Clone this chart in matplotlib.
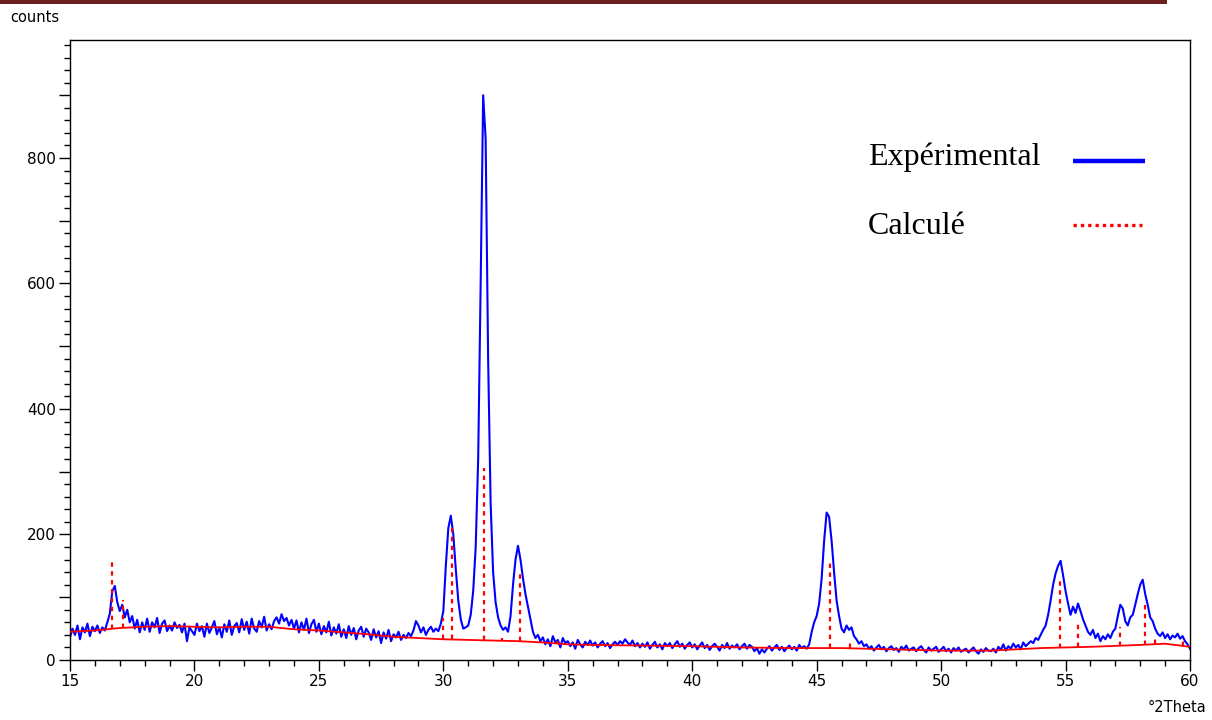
import numpy as np
import matplotlib
matplotlib.use("Agg")
import matplotlib.pyplot as plt
from matplotlib.ticker import MultipleLocator, FuncFormatter
from matplotlib.lines import Line2D
from matplotlib.patches import Rectangle

# ---------------- data ----------------
theta_start, theta_stop, theta_step = 15.0, 60.0, 0.1

# experimental counts, one row per degree (x.0 ... x.9), last value at 60.0
counts = [
    36, 50, 40, 55, 33, 52, 44, 58, 38, 53,          # 15
    46, 55, 43, 52, 47, 60, 74, 110, 118, 92,        # 16
    78, 88, 68, 80, 60, 70, 50, 64, 44, 60,          # 17
    48, 66, 45, 60, 52, 67, 43, 58, 63, 46,          # 18
    55, 47, 60, 51, 56, 44, 58, 30, 52, 46,          # 19
    40, 58, 46, 54, 37, 58, 43, 52, 62, 41,          # 20
    52, 36, 57, 45, 63, 40, 54, 59, 44, 65,          # 21
    48, 61, 42, 66, 50, 45, 62, 52, 69, 47,          # 22
    57, 49, 62, 68, 58, 73, 62, 67, 55, 64,          # 23
    50, 63, 44, 60, 48, 66, 43, 57, 64, 45,          # 24
    58, 41, 54, 44, 61, 39, 52, 42, 57, 37,          # 25
    49, 35, 54, 40, 51, 33, 47, 53, 37, 50,          # 26
    44, 32, 49, 36, 46, 27, 44, 34, 48, 30,          # 27
    41, 36, 45, 32, 40, 35, 43, 38, 47, 62,          # 28
    55, 44, 52, 40, 48, 53, 45, 50, 46, 58,          # 29
    78, 150, 210, 230, 200, 145, 95, 65, 50, 52,     # 30
    55, 72, 110, 180, 320, 600, 900, 830, 480, 250,  # 31
    140, 92, 68, 55, 48, 52, 45, 70, 120, 160,       # 32
    182, 160, 130, 105, 85, 65, 45, 35, 40, 30,      # 33
    36, 25, 33, 22, 38, 28, 32, 20, 35, 27,          # 34
    30, 22, 28, 18, 32, 25, 20, 29, 24, 31,          # 35
    23, 28, 20, 26, 30, 22, 27, 19, 25, 29,          # 36
    24, 30, 26, 33, 28, 24, 31, 22, 27, 20,          # 37
    26, 21, 28, 18, 24, 29, 20, 25, 17, 27,          # 38
    22, 27, 19, 25, 30, 21, 26, 18, 24, 28,          # 39
    20, 25, 17, 23, 28, 19, 24, 16, 22, 26,          # 40
    21, 15, 24, 19, 27, 18, 23, 20, 25, 17,          # 41
    22, 26, 18, 24, 21, 14, 19, 10, 17, 12,          # 42
    18, 22, 15, 20, 24, 16, 21, 14, 19, 23,          # 43
    17, 21, 15, 24, 19, 22, 18, 25, 45, 60,          # 44
    70, 90, 130, 190, 235, 228, 190, 140, 95, 70,    # 45
    50, 44, 55, 48, 52, 38, 33, 26, 30, 22,          # 46
    25, 18, 22, 15, 20, 24, 17, 21, 14, 19,          # 47
    22, 16, 19, 13, 21, 17, 23, 15, 18, 20,          # 48
    14, 19, 22, 16, 12, 20, 15, 18, 21, 13,          # 49
    17, 21, 14, 18, 12, 19, 15, 20, 13, 16,          # 50
    18, 12, 16, 20, 14, 10, 17, 13, 19, 15,          # 51
    14, 18, 12, 21, 16, 25, 15, 22, 18, 26,          # 52
    20, 24, 17, 28, 22, 26, 30, 27, 35, 32,          # 53
    40, 48, 55, 72, 95, 120, 138, 150, 158, 135,     # 54
    110, 90, 72, 85, 75, 90, 78, 65, 55, 45,         # 55
    40, 48, 35, 42, 30, 38, 33, 41, 35, 45,          # 56
    50, 70, 88, 82, 62, 55, 68, 72, 88, 105,         # 57
    120, 128, 105, 88, 68, 62, 50, 42, 38, 44,       # 58
    35, 41, 33, 39, 36, 42, 34, 38, 30, 25,          # 59
    18,                                              # 60
]

# calculated background
bg_theta = [15, 16, 17, 18, 19, 20, 21, 22, 23, 24, 25, 26, 27, 28, 29, 30,
            31, 32, 33, 34, 35, 36, 38, 40, 42, 44, 46, 48, 50, 52, 54, 56,
            58, 59, 60]
bg_counts = [45, 47, 51, 53, 54, 53, 52, 53, 53, 49, 47, 44, 41, 37, 35, 33,
             32, 31, 30, 28, 25, 24, 23, 22, 20, 19, 19, 17, 15, 15, 19, 21,
             24, 26, 21]

# calculated reflections (position, top of the dotted line)
peak_theta = [16.67, 17.12, 30.00, 30.33, 31.63, 32.35, 33.10, 34.55,
              45.53, 46.33, 54.77, 55.50, 57.20, 58.20, 58.60, 59.70]
peak_top = [160, 96, 67, 210, 306, 35, 142, 30,
            154, 31, 130, 58, 53, 93, 35, 30]

legend_labels = ["Expérimental", "Calculé"]

# ---------------- figure ----------------
W, H, DPI = 1212, 720, 100
fig = plt.figure(figsize=(W / DPI, H / DPI), dpi=DPI)
ax = fig.add_axes([70 / W, 1 - 660 / H, (1190 - 70) / W, (660 - 40) / H])

theta = np.round(np.arange(theta_start, theta_stop + 1e-9, theta_step), 2)
ax.plot(theta, counts, color="#0000ff", lw=1.5, zorder=2)
ax.plot(bg_theta, bg_counts, color="#ff0000", lw=1.3, zorder=3)

bg_at_peak = np.interp(peak_theta, bg_theta, bg_counts)
ax.vlines(peak_theta, bg_at_peak, peak_top, colors="#ff0000",
          linestyles=(0, (2, 2)), lw=1.6, zorder=4)

ax.set_xlim(15, 60)
ax.set_ylim(0, 988)

ax.xaxis.set_major_locator(MultipleLocator(5))
ax.xaxis.set_minor_locator(MultipleLocator(1))
ax.yaxis.set_major_locator(MultipleLocator(100))
ax.yaxis.set_minor_locator(MultipleLocator(20))
ax.yaxis.set_major_formatter(FuncFormatter(
    lambda v, p: f"{int(v)}" if int(round(v)) % 200 == 0 else ""))

ax.tick_params(axis="both", which="major", direction="out", length=8,
               width=1, labelsize=11, pad=2)
ax.tick_params(axis="both", which="minor", direction="out", length=4, width=1)
for s in ax.spines.values():
    s.set_linewidth(1.0)
    s.set_color("black")

for lab in ax.get_xticklabels() + ax.get_yticklabels():
    lab.set_fontfamily("DejaVu Sans")

# axis captions
fig.text(10 / W, 1 - 17 / H, "counts", fontsize=10.5, ha="left", va="center",
         family="DejaVu Sans")
fig.text(1206 / W, 1 - 708 / H, "°2Theta", fontsize=10.5, ha="right",
         va="center", family="DejaVu Sans")

# top decorative bar
fig.add_artist(Rectangle((0, 1 - 4 / H), 1167 / W, 4 / H,
                         transform=fig.transFigure, color="#6d2020", lw=0))

# hand-made legend
fig.text(868 / W, 1 - 157 / H, legend_labels[0], fontsize=23,
         family="Liberation Serif", ha="left", va="center")
fig.text(868 / W, 1 - 227 / H, legend_labels[1], fontsize=23,
         family="Liberation Serif", ha="left", va="center")
fig.add_artist(Line2D([1073 / W, 1145 / W], [1 - 161 / H, 1 - 161 / H],
                      transform=fig.transFigure, color="#0000ff", lw=3.2,
                      solid_capstyle="butt"))
fig.add_artist(Line2D([1073 / W, 1142 / W], [1 - 225 / H, 1 - 225 / H],
                      transform=fig.transFigure, color="#ff0000", lw=2.4,
                      linestyle=(0, (1, 1.2))))

fig.savefig("out.png", dpi=DPI)
